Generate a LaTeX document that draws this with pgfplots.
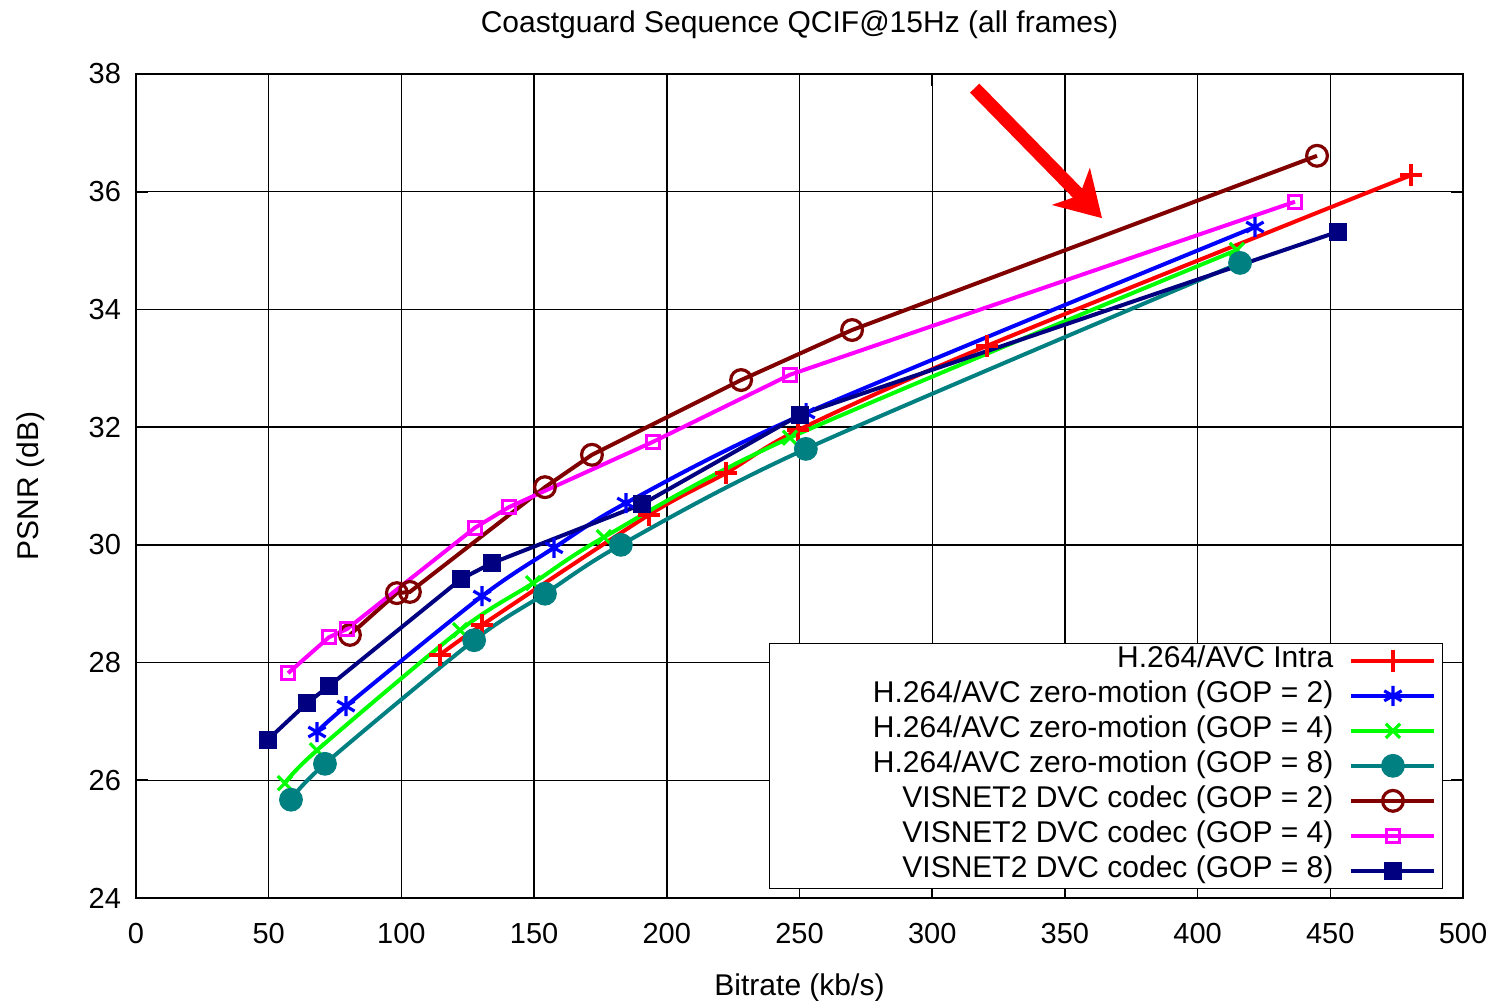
\documentclass[border=0pt]{standalone}
\usepackage{pgfplots}
\pgfplotsset{compat=1.18}
\usepackage{fontspec}
\setmainfont{Liberation Sans}
\usetikzlibrary{arrows.meta}
\definecolor{cred}{RGB}{255,0,0}
\definecolor{cblue}{RGB}{0,0,255}
\definecolor{cgreen}{RGB}{0,255,0}
\definecolor{cteal}{RGB}{0,128,128}
\definecolor{cbrown}{RGB}{128,0,0}
\definecolor{cmag}{RGB}{255,0,255}
\definecolor{cnavy}{RGB}{0,0,128}
\newcommand{\LE}[1]{\makebox[283pt][r]{#1\hspace{6pt}}}
\begin{document}
\begin{tikzpicture}
\begin{axis}[
  scale only axis, width=663.5pt, height=412pt,
  xmin=0, xmax=500, ymin=24, ymax=38,
  xtick={0,50,...,500}, ytick={24,26,...,38},
  grid=major, major grid style={black, line width=0.7pt},
  axis line style={black, line width=1pt},
  tick style={black, line width=0.8pt}, tick align=inside,
  major tick length=6pt,
  /pgf/number format/assume math mode=true,
  ticklabel style={font=\fontsize{14.5}{16}\selectfont},
  xticklabel style={yshift=-9pt},
  yticklabel style={xshift=-4pt},
  title={Coastguard Sequence QCIF@15Hz (all frames)},
  title style={font=\fontsize{15}{17}\selectfont, yshift=8pt},
  xlabel={Bitrate (kb/s)}, ylabel={PSNR (dB)},
  label style={font=\fontsize{15}{17}\selectfont},
  xlabel style={yshift=-8pt},
  ylabel style={yshift=15pt},
  legend cell align=right, legend plot pos=right,
  legend style={at={(0.985,0.011)}, anchor=south east, draw=black, line width=0.6pt,
    font=\fontsize{15}{17}\selectfont, row sep=0pt, inner xsep=3pt, inner ysep=0pt,
    nodes={text height=12pt, text depth=5.5pt, inner ysep=0pt}},
  legend image code/.code={\draw[mark repeat=2,mark phase=2] plot coordinates {(0cm,0cm) (0.73cm,0cm) (1.46cm,0cm)};},
  every axis plot/.append style={line width=2pt},
]
\addplot[color=cred, smooth, mark=+, mark size=5.5pt, mark options={line width=1.8pt}] coordinates {
(114.5,28.13) (130.4,28.64) (193.3,30.51) (222.3,31.22) (249.5,31.95) (320.6,33.38) (480.4,36.28)};
\addlegendentry{\LE{H.264/AVC Intra}}
\addplot[color=cblue, smooth, mark=asterisk, mark size=5pt, mark options={line width=1.6pt}] coordinates {
(68.2,26.82) (79.1,27.26) (130.4,29.13) (157.5,29.95) (184.6,30.71) (252.5,32.24) (421.6,35.40)};
\addlegendentry{\LE{H.264/AVC zero-motion (GOP = 2)}}
\addplot[color=cgreen, smooth, mark=x, mark size=5pt, mark options={line width=1.6pt}] coordinates {
(56.1,25.95) (68.2,26.51) (122.1,28.55) (149.6,29.35) (176.3,30.13) (246.4,31.82) (414.8,35.01)};
\addlegendentry{\LE{H.264/AVC zero-motion (GOP = 4)}}
\addplot[color=cteal, smooth, mark=*, mark size=5.7pt, mark options={fill=cteal, line width=0.5pt}] coordinates {
(58.4,25.67) (71.2,26.28) (127.4,28.38) (154.1,29.17) (182.7,30.00) (252.4,31.63) (416.0,34.79)};
\addlegendentry{\LE{H.264/AVC zero-motion (GOP = 8)}}
\addplot[color=cbrown, mark=o, mark size=5.2pt, mark options={line width=1.6pt}] coordinates {
(80.6,28.47) (98.3,29.18) (103.2,29.20) (154.1,30.98) (171.8,31.53) (228.0,32.80) (269.8,33.65) (445.0,36.61)};
\addlegendentry{\LE{VISNET2 DVC codec (GOP = 2)}}
\addplot[color=cmag, mark=square, mark size=3.3pt, mark options={line width=1.4pt}] coordinates {
(57.3,27.82) (72.7,28.43) (79.5,28.57) (127.7,30.29) (140.5,30.64) (194.8,31.75) (246.4,32.89) (436.7,35.83)};
\addlegendentry{\LE{VISNET2 DVC codec (GOP = 4)}}
\addplot[color=cnavy, mark=square*, mark size=4.3pt, mark options={fill=cnavy, line width=0.5pt}] coordinates {
(49.7,26.69) (64.4,27.31) (72.7,27.60) (122.5,29.42) (134.1,29.69) (190.7,30.69) (250.2,32.21) (452.9,35.32)};
\addlegendentry{\LE{VISNET2 DVC codec (GOP = 8)}}
\draw[cred, line width=6.5pt, -{Stealth[length=22pt, width=26pt, inset=6pt]}] (axis cs:316,37.76) -- (axis cs:364,35.55);
\end{axis}
\pgfresetboundingbox
\path (-68pt,-51.5pt) rectangle (679.5pt,449pt);
\end{tikzpicture}
\end{document}
